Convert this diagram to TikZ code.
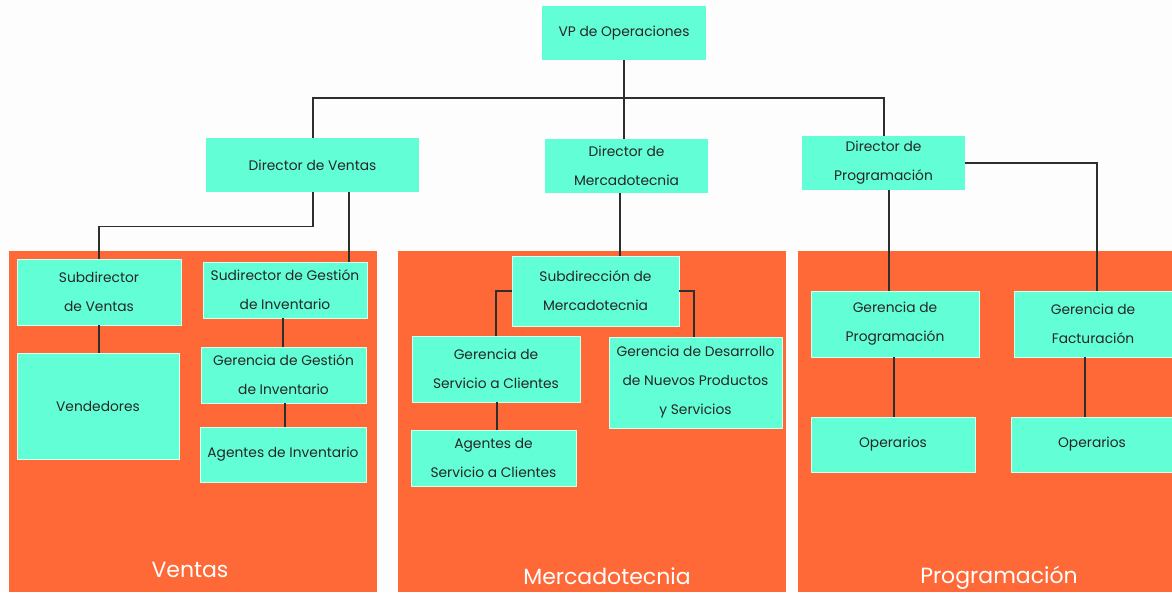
\documentclass[tikz,border=0pt]{standalone}
\usepackage{fontspec}
\setmainfont{Poppins}
\usetikzlibrary{positioning}
\definecolor{aqua}{HTML}{62FFD6}
\definecolor{panel}{HTML}{FF6837}
\definecolor{wire}{HTML}{2E2E2E}
\definecolor{paper}{HTML}{FDFDFD}
\begin{document}
\begin{tikzpicture}[x=1pt,y=-1pt,
  box/.style={fill=aqua,draw=white!70!aqua,line width=0.8pt,inner sep=0pt,align=center,
    font=\fontsize{13.8}{29}\selectfont,text=black!85},
  topbox/.style={box,draw=none},
  area/.style={fill=panel,draw=none},
  arealabel/.style={text=white,font=\fontsize{22}{24}\selectfont,inner sep=0pt},
  wire/.style={draw=wire,line width=1.25pt}]
% page
\fill[paper] (0,0) rectangle (1172,592);
\useasboundingbox (0,0) rectangle (1172,592);

% department panels
\fill[area] (9,251) rectangle (377,592);
\fill[area] (398,251) rectangle (786,592);
\fill[area] (798,251) rectangle (1172,592);
\node[arealabel] (lv) at (190,570) {Ventas};
\node[arealabel] (lm) at (607,576) {Mercadotecnia};
\node[arealabel] (lp) at (999,578) {Programación};

% top levels
\node[topbox,minimum width=164,minimum height=54] (vp) at (624,33) {VP de Operaciones};
\node[topbox,minimum width=213,minimum height=54] (dv) at (312.5,165) {Director de Ventas};
\node[topbox,minimum width=163,minimum height=54] (dm) at (626.5,166) {Director de\\Mercadotecnia};
\node[topbox,minimum width=163,minimum height=54] (dp) at (883.5,163) {Director de\\Programación};

% Ventas
\node[box,minimum width=164,minimum height=66] (sv) at (99,292) {Subdirector\\de Ventas};
\node[box,minimum width=162,minimum height=106] (vend) at (98,406) {Vendedores};
\node[box,minimum width=164,minimum height=56] (sgi) at (285,290) {Sudirector de Gestión\\de Inventario};
\node[box,minimum width=165,minimum height=56] (ggi) at (283.5,375) {Gerencia de Gestión\\de Inventario};
\node[box,minimum width=166,minimum height=55] (ai) at (283,454.5) {Agentes de Inventario};

% Mercadotecnia
\node[box,minimum width=167,minimum height=70] (sm) at (595.5,291) {Subdirección de\\Mercadotecnia};
\node[box,minimum width=168,minimum height=66] (gsc) at (496,369) {Gerencia de\\Servicio a Clientes};
\node[box,minimum width=165,minimum height=56] (asc) at (493.5,458) {Agentes de\\Servicio a Clientes};
\node[box,minimum width=173,minimum height=91] (gd) at (695.5,382.5) {Gerencia de Desarrollo\\de Nuevos Productos\\y Servicios};

% Programación
\node[box,minimum width=168,minimum height=66] (gp) at (895,324) {Gerencia de\\Programación};
\node[box,minimum width=164,minimum height=55] (op1) at (893,444.5) {Operarios};
\node[box,minimum width=158,minimum height=66] (gf) at (1093,324) {Gerencia de\\Facturación};
\node[box,minimum width=161,minimum height=55] (op2) at (1092,444.5) {Operarios};

% connectors
\coordinate (bus) at (624,98);
\draw[wire] (vp.south) -- (bus);
\draw[wire] ([xshift=0.5pt]dv.north) |- (bus) -| ([xshift=0.5pt]dp.north);
\draw[wire] (bus) -- (bus |- dm.north);

\draw[wire] ([xshift=0.5pt]dv.south) -- ++(0,34) -| (sv.north);
\draw[wire] ([xshift=36.5pt]dv.south) -- ([xshift=36.5pt]dv.south |- sgi.north);
\draw[wire] (sv.south) -- (sv.south |- vend.north);
\draw[wire] ([xshift=-0.5pt]ggi.north) -- ([xshift=-0.5pt]ggi.north |- sgi.south);
\draw[wire] ([xshift=2pt]ai.north) -- ([xshift=2pt]ai.north |- ggi.south);

\draw[wire] ([xshift=-6.5pt]dm.south) -- ([xshift=-6.5pt]dm.south |- sm.north);
\draw[wire] (sm.west) -| (gsc.north);
\draw[wire] (sm.east) -| ([xshift=-1.5pt]gd.north);
\draw[wire] ([xshift=1pt]gsc.south) -- ([xshift=1pt]gsc.south |- asc.north);

\draw[wire] ([xshift=5.5pt]dp.south) -- ([xshift=5.5pt]dp.south |- gp.north);
\draw[wire] (dp.east) -| ([xshift=4pt]gf.north);
\draw[wire] ([xshift=-1pt]gp.south) -- ([xshift=-1pt]gp.south |- op1.north);
\draw[wire] ([xshift=-8pt]gf.south) -- ([xshift=-8pt]gf.south |- op2.north);
\end{tikzpicture}
\end{document}
